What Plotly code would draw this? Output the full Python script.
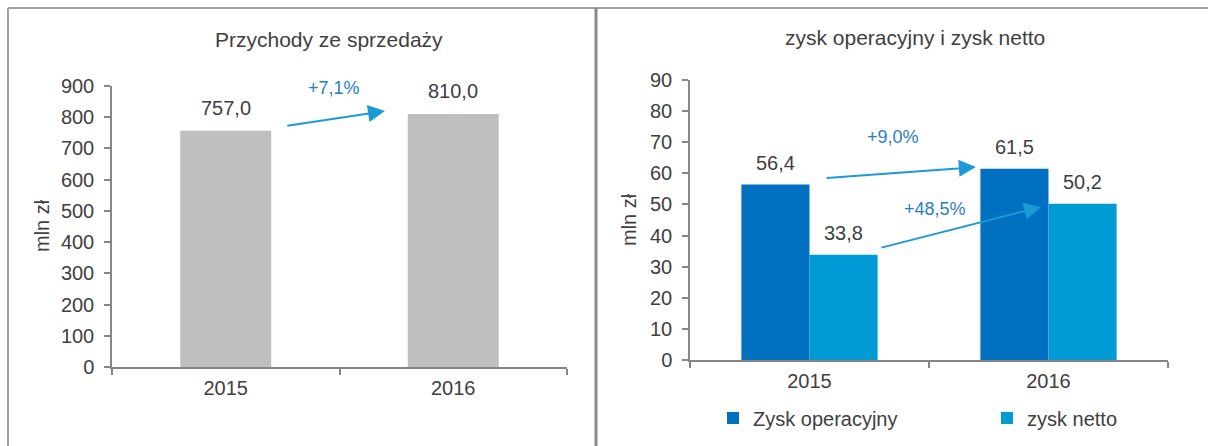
import plotly.graph_objects as go

# ---- data ----
years = ["2015", "2016"]
revenue = [757.0, 810.0]
op_profit = [56.4, 61.5]
net_profit = [33.8, 50.2]
rev_change = "+7,1%"
op_change = "+9,0%"
net_change = "+48,5%"
y_title = "mln zł"
title_left = "Przychody ze sprzedaży"
title_right = "zysk operacyjny i zysk netto"
series_names = ["Zysk operacyjny", "zysk netto"]

# ---- styles ----
FONT = "Liberation Sans, Arial, sans-serif"
TXT = "#404040"
AXC = "#868686"
GREY = "#BFBFBF"
DBLUE = "#0070C0"
LBLUE = "#009AD4"
ARROW = "#1C9AD6"
PCT = "#2A7EC6"
W, H = 1208, 446


def fmt(v):
    return f"{v:.1f}".replace(".", ",")


fig = go.Figure()

fig.add_trace(go.Bar(x=[0, 1], y=revenue, marker_color=GREY, marker_line_width=0, width=0.4,
                     xaxis="x", yaxis="y", showlegend=False))
bw = 0.285
fig.add_trace(go.Bar(x=[0, 1], y=op_profit, name=series_names[0], marker_color=DBLUE,
                     marker_line_width=0, width=bw, offset=-bw, xaxis="x2", yaxis="y2",
                     legend="legend"))
fig.add_trace(go.Bar(x=[0, 1], y=net_profit, name=series_names[1], marker_color=LBLUE,
                     marker_line_width=0, width=bw, offset=0, xaxis="x2", yaxis="y2",
                     legend="legend2"))

ann = []
lab = dict(size=20, color=TXT, family=FONT)
for i, v in enumerate(revenue):
    ann.append(dict(x=i, y=v, xref="x", yref="y", text=fmt(v), showarrow=False,
                    xanchor="center", yanchor="middle", yshift=23, font=lab))
for i, v in enumerate(op_profit):
    ann.append(dict(x=i - bw / 2, y=v, xref="x2", yref="y2", text=fmt(v), showarrow=False,
                    xanchor="center", yanchor="middle", yshift=22, font=lab))
for i, v in enumerate(net_profit):
    ann.append(dict(x=i + bw / 2, y=v, xref="x2", yref="y2", text=fmt(v), showarrow=False,
                    xanchor="center", yanchor="middle", yshift=22, font=lab))


def arrow(xr, yr, x0, y0, x1, y1):
    return dict(x=x1, y=y1, ax=x0, ay=y0, xref=xr, yref=yr, axref=xr, ayref=yr,
                showarrow=True, arrowhead=2, arrowsize=1.7, arrowwidth=2,
                arrowcolor=ARROW, text="", standoff=0)


pct = dict(size=18, color=PCT, family=FONT)
ann.append(arrow("x", "y", 0.264, 772, 0.70, 820))
ann.append(dict(x=0.475, y=893, xref="x", yref="y", text=rev_change, showarrow=False,
                xanchor="center", yanchor="middle", font=pct))
ann.append(arrow("x2", "y2", 0.065, 58.5, 0.696, 62.0))
ann.append(dict(x=0.349, y=71.7, xref="x2", yref="y2", text=op_change, showarrow=False,
                xanchor="center", yanchor="middle", font=pct))
ann.append(arrow("x2", "y2", 0.295, 36.0, 0.969, 49.2))
ann.append(dict(x=0.525, y=48.5, xref="x2", yref="y2", text=net_change, showarrow=False,
                xanchor="center", yanchor="middle", font=pct))

tf = dict(size=21, color=TXT, family=FONT)
yt = dict(size=20, color=TXT, family=FONT)
ann.append(dict(x=329 / W, y=1 - 39 / H, xref="paper", yref="paper", text=title_left,
                showarrow=False, xanchor="center", yanchor="middle", font=tf))
ann.append(dict(x=915 / W, y=1 - 37 / H, xref="paper", yref="paper", text=title_right,
                showarrow=False, xanchor="center", yanchor="middle", font=tf))
ann.append(dict(x=42 / W, y=1 - 226 / H, xref="paper", yref="paper", text=y_title,
                textangle=-90, showarrow=False, xanchor="center", yanchor="middle", font=yt))
ann.append(dict(x=629 / W, y=1 - 220 / H, xref="paper", yref="paper", text=y_title,
                textangle=-90, showarrow=False, xanchor="center", yanchor="middle", font=yt))

shapes = [
    dict(type="line", xref="paper", yref="paper", x0=8 / W, x1=1, y0=1 - 8 / H, y1=1 - 8 / H,
         line=dict(color="#A0A0A0", width=2)),
    dict(type="line", xref="paper", yref="paper", x0=8 / W, x1=8 / W, y0=0, y1=1 - 8 / H,
         line=dict(color="#A0A0A0", width=2)),
    dict(type="line", xref="paper", yref="paper", x0=596 / W, x1=596 / W, y0=0, y1=1 - 8 / H,
         line=dict(color="#8A8A8A", width=3)),
]

xcommon = dict(type="linear", tickmode="array", tickvals=[0, 1], ticktext=years,
               range=[-0.5, 1.5], showline=True, linecolor=AXC, linewidth=1.5,
               showgrid=False, zeroline=False, ticks="", ticklabelstandoff=2,
               minor=dict(tickmode="array", tickvals=[-0.5, 0.5, 1.5], ticks="outside",
                          ticklen=6, tickcolor=AXC, tickwidth=1.5, showgrid=False),
               tickfont=dict(size=20, color=TXT, family=FONT), automargin=False)
ycommon = dict(showline=True, linecolor=AXC, linewidth=1.5, ticks="outside", ticklen=6,
               tickcolor=AXC, tickwidth=1.5, showgrid=False, zeroline=False,
               tickfont=dict(size=20, color=TXT, family=FONT), ticklabelstandoff=6,
               automargin=False)

legfont = dict(size=20, color=TXT, family=FONT)
fig.update_layout(
    width=W, height=H, margin=dict(l=0, r=0, t=0, b=0, autoexpand=False),
    paper_bgcolor="white", plot_bgcolor="white",
    barmode="overlay",
    xaxis=dict(domain=[112 / W, 567 / W], anchor="y", **xcommon),
    yaxis=dict(domain=[(H - 367) / H, (H - 86) / H], anchor="x", range=[0, 900], dtick=100, **ycommon),
    xaxis2=dict(domain=[690 / W, 1168 / W], anchor="y2", **xcommon),
    yaxis2=dict(domain=[(H - 360) / H, (H - 80) / H], anchor="x2", range=[0, 90], dtick=10, **ycommon),
    annotations=ann, shapes=shapes,
    legend=dict(orientation="h", x=713 / W, y=1 - 418 / H, xanchor="left", yanchor="middle",
                font=legfont, bgcolor="rgba(0,0,0,0)"),
    legend2=dict(orientation="h", x=987 / W, y=1 - 418 / H, xanchor="left", yanchor="middle",
                 font=legfont, bgcolor="rgba(0,0,0,0)"),
    showlegend=True,
)

fig.write_html("out.html", config={"displayModeBar": False},
               post_script="document.body.style.margin='0';document.body.style.overflow='hidden';")
